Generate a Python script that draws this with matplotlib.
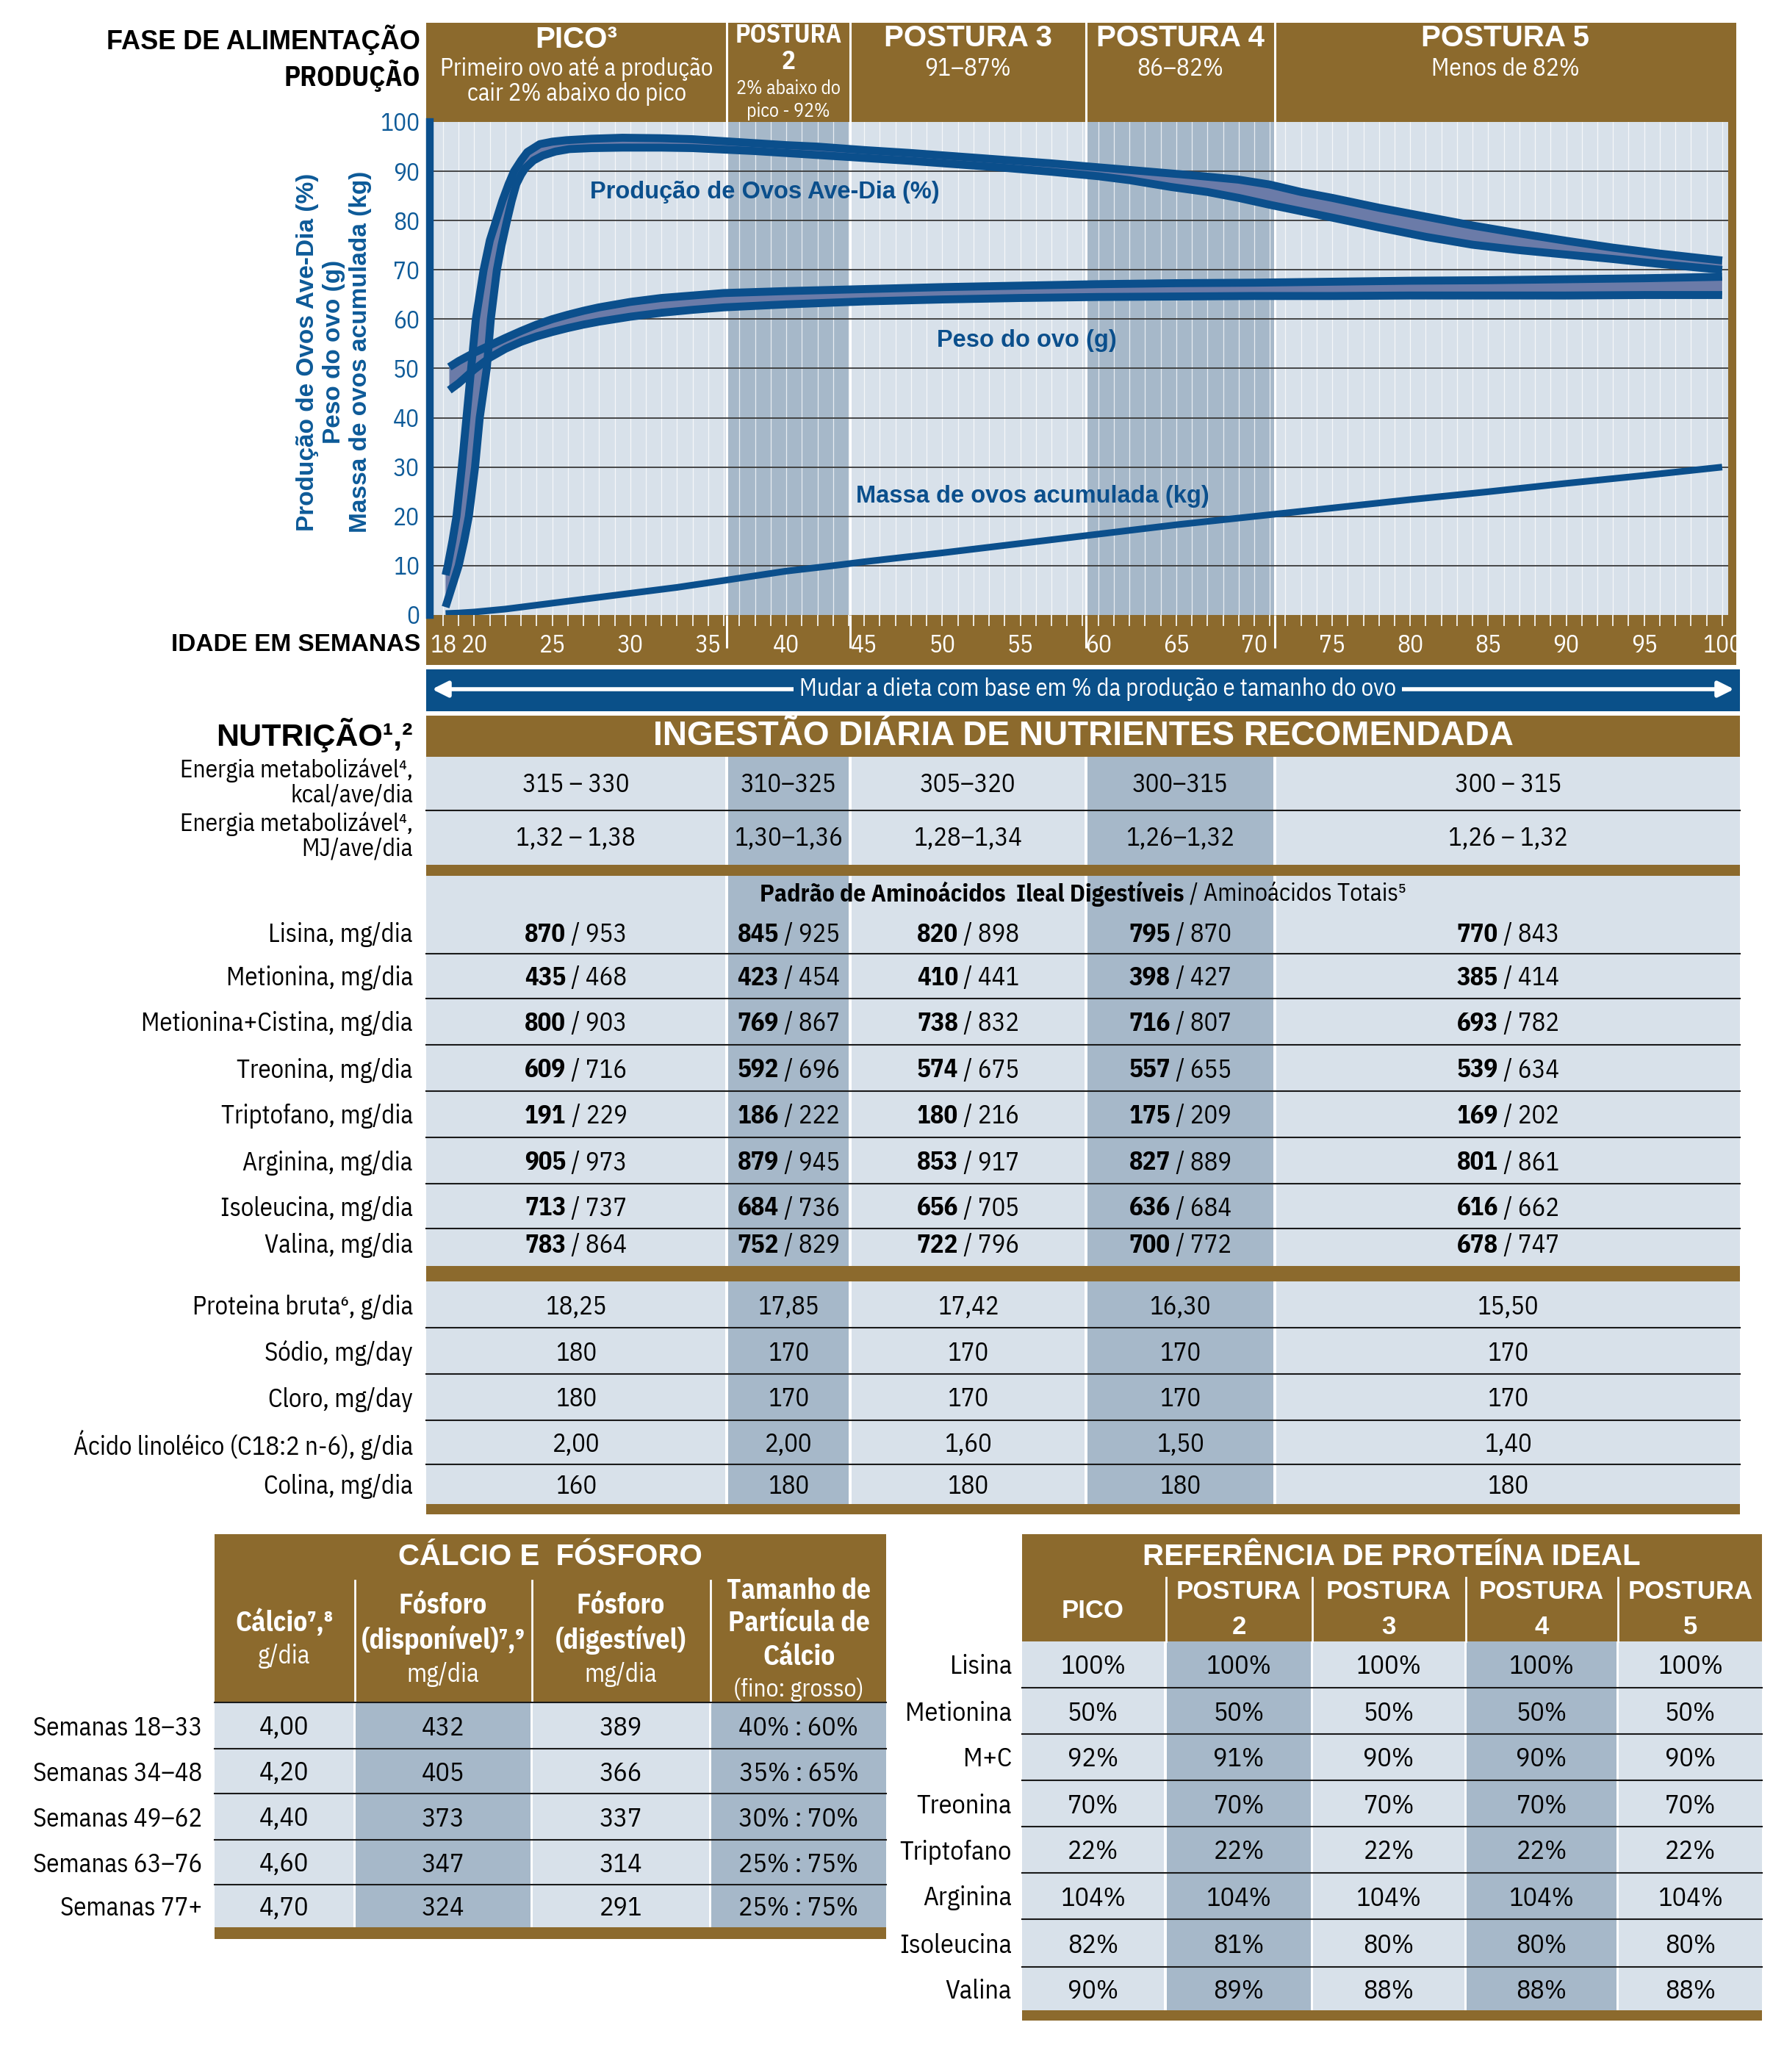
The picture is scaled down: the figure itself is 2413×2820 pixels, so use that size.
import matplotlib
matplotlib.use('Agg')
import matplotlib.pyplot as plt
from matplotlib.patches import Rectangle
from matplotlib.transforms import blended_transform_factory
import numpy as np

# ------------------------------------------------------------------ data
PHASE_NAMES = ['PICO³', 'POSTURA\n2', 'POSTURA 3', 'POSTURA 4', 'POSTURA 5']
PHASE_SUBS = ['Primeiro ovo até a produção\ncair 2% abaixo do pico', '2% abaixo do\npico - 92%',
              '91–87%', '86–82%', 'Menos de 82%']
PHASE_BOUNDS = [36.2, 44.1, 59.2, 71.3]          # weeks
WEEK_LABELS = [18, 20, 25, 30, 35, 40, 45, 50, 55, 60, 65, 70, 75, 80, 85, 90, 95, 100]
Y_TICKS = [0, 10, 20, 30, 40, 50, 60, 70, 80, 90, 100]

prod_hi_w = [18.16, 18.3, 18.6, 18.86, 19.2, 19.5, 19.8, 20.1, 20.6, 21.0, 21.4, 21.8, 22.2, 22.55, 23.0,
             23.4, 24.2, 25.0, 25.9, 27.5, 29.5, 32, 34, 36, 38, 40, 42, 45, 48, 51, 54, 57, 60, 63, 66,
             69, 71, 73, 75, 78, 81, 84, 87, 90, 93, 96, 100]
prod_hi_v = [8.1, 10, 15, 20, 30, 40, 50, 60, 70, 76, 80, 84, 87.4, 90, 92.2,
             93.9, 95.5, 96.0, 96.3, 96.6, 96.8, 96.7, 96.5, 96.1, 95.7, 95.3, 95.0, 94.3, 93.7, 93.0, 92.3,
             91.6, 90.8, 90.0, 89.2, 88.3, 87.3, 85.8, 84.6, 82.6, 80.8, 79.0, 77.4, 75.9, 74.5, 73.3, 71.9]
prod_lo_w = [18.16, 18.6, 19.0, 19.35, 19.65, 20.05, 20.35, 20.8, 21.06, 21.45, 21.75, 22.1, 22.4, 22.7,
             23.0, 23.26, 23.8, 24.4, 25.2, 26.1, 27.5, 29.5, 32, 34, 36, 38, 40, 42, 45, 48, 51, 54, 57,
             60, 62, 64.7, 67, 69, 71, 73, 75, 78, 81, 84, 87, 90, 93, 96, 100]
prod_lo_v = [1.6, 6, 10, 15, 20, 30, 40, 50, 60, 70, 75, 80, 84, 87.4,
             89.3, 90.6, 92.2, 93.2, 94.0, 94.5, 94.7, 94.8, 94.8, 94.7, 94.4, 94.1, 93.7, 93.3, 92.7, 92.1,
             91.4, 90.7, 89.9, 89.0, 88.2, 86.8, 85.8, 84.6, 83.2, 81.9, 80.6, 78.6, 76.7, 75.1, 74.0, 73.1,
             72.2, 71.2, 70.0]

egg_w = [18.4, 19, 20, 21, 22, 23, 24, 25, 26, 27, 28, 30, 32, 34, 36, 40, 45, 50, 55, 60, 65, 70, 75, 80,
         85, 90, 95, 100]
egg_hi = [50.3, 51.5, 53.2, 54.7, 56.2, 57.6, 58.9, 60.0, 60.9, 61.7, 62.4, 63.5, 64.3, 64.8, 65.3, 65.7,
          66.1, 66.5, 66.8, 67.1, 67.3, 67.4, 67.6, 67.8, 67.9, 68.1, 68.3, 68.6]
egg_lo = [45.6, 47.0, 49.8, 52.2, 54.0, 55.4, 56.5, 57.4, 58.2, 58.9, 59.5, 60.5, 61.3, 61.9, 62.4, 63.0,
          63.6, 64.0, 64.3, 64.5, 64.6, 64.7, 64.7, 64.8, 64.8, 64.8, 64.9, 64.9]

mass_w = [18.16, 19, 20, 21, 22, 23, 25, 27, 29.5, 33, 36, 40, 43, 45, 50, 55, 60, 65, 70, 75, 80, 85, 90,
          95, 100]
mass_v = [0.3, 0.4, 0.6, 0.9, 1.2, 1.6, 2.4, 3.2, 4.2, 5.6, 7.0, 8.9, 10.0, 10.8, 12.6, 14.5, 16.4, 18.3,
          20.0, 21.7, 23.4, 25.0, 26.7, 28.3, 30.0]

NUT_ROWS_A = ['Energia metabolizável⁴,\nkcal/ave/dia', 'Energia metabolizável⁴,\nMJ/ave/dia']
NUT_VALS_A = [['315 – 330', '310–325', '305–320', '300–315', '300 – 315'],
              ['1,32 – 1,38', '1,30–1,36', '1,28–1,34', '1,26–1,32', '1,26 – 1,32']]
AMINO_ROWS = ['Lisina, mg/dia', 'Metionina, mg/dia', 'Metionina+Cistina, mg/dia', 'Treonina, mg/dia',
              'Triptofano, mg/dia', 'Arginina, mg/dia', 'Isoleucina, mg/dia', 'Valina, mg/dia']
AMINO_DIG = [[870, 845, 820, 795, 770], [435, 423, 410, 398, 385], [800, 769, 738, 716, 693],
             [609, 592, 574, 557, 539], [191, 186, 180, 175, 169], [905, 879, 853, 827, 801],
             [713, 684, 656, 636, 616], [783, 752, 722, 700, 678]]
AMINO_TOT = [[953, 925, 898, 870, 843], [468, 454, 441, 427, 414], [903, 867, 832, 807, 782],
             [716, 696, 675, 655, 634], [229, 222, 216, 209, 202], [973, 945, 917, 889, 861],
             [737, 736, 705, 684, 662], [864, 829, 796, 772, 747]]
NUT_ROWS_C = ['Proteina bruta⁶, g/dia', 'Sódio, mg/day', 'Cloro, mg/day',
              'Ácido linoléico (C18:2 n-6), g/dia', 'Colina, mg/dia']
NUT_VALS_C = [['18,25', '17,85', '17,42', '16,30', '15,50'],
              ['180', '170', '170', '170', '170'],
              ['180', '170', '170', '170', '170'],
              ['2,00', '2,00', '1,60', '1,50', '1,40'],
              ['160', '180', '180', '180', '180']]

CA_ROWS = ['Semanas 18–33', 'Semanas 34–48', 'Semanas 49–62', 'Semanas 63–76', 'Semanas 77+']
CA_CALCIO = ['4,00', '4,20', '4,40', '4,60', '4,70']
CA_PDISP = ['432', '405', '373', '347', '324']
CA_PDIG = ['389', '366', '337', '314', '291']
CA_PART = ['40% : 60%', '35% : 65%', '30% : 70%', '25% : 75%', '25% : 75%']

PR_COLS = ['PICO', 'POSTURA\n2', 'POSTURA\n3', 'POSTURA\n4', 'POSTURA\n5']
PR_ROWS = ['Lisina', 'Metionina', 'M+C', 'Treonina', 'Triptofano', 'Arginina', 'Isoleucina', 'Valina']
PR_VALS = [[100, 100, 100, 100, 100], [50, 50, 50, 50, 50], [92, 91, 90, 90, 90], [70, 70, 70, 70, 70],
           [22, 22, 22, 22, 22], [104, 104, 104, 104, 104], [82, 81, 80, 80, 80], [90, 89, 88, 88, 88]]

# ------------------------------------------------------------------ style
BROWN = '#8c6a2d'
LIGHT = '#d8e1ea'
DARK = '#a6b8c9'
BLUE = '#0b4f8c'
BLUE_T = '#0d5a98'
BAND = '#6b7ba8'
NAR = ['IBM Plex Sans Condensed', 'Fira Sans Condensed', 'DejaVu Sans']
WID = ['Liberation Sans', 'DejaVu Sans']

W, H = 2413, 2820
fig = plt.figure(figsize=(W / 100, H / 100), dpi=100)
ax0 = fig.add_axes([0, 0, 1, 1])
ax0.set_xlim(0, W)
ax0.set_ylim(H, 0)
ax0.axis('off')

X0, PW = 603.0, 21.23          # pixel of week 18, pixels per week


def wx(w):
    return X0 + (w - 18) * PW


def T(x, y, s, size=24, bold=False, color='black', ha='center', va='center', fam=NAR, ax=None, **kw):
    ax = ax or ax0
    return ax.text(x, y, s, fontsize=size, fontweight='bold' if bold else 'normal', color=color,
                   ha=ha, va=va, family=fam, **kw)


def R(x0, y0, x1, y1, c, ax=None, z=0):
    (ax or ax0).add_patch(Rectangle((x0, y0), x1 - x0, y1 - y0, facecolor=c, edgecolor='none', zorder=z))


renderer = fig.canvas.get_renderer()


def mixed(xc, y, parts, size=24, color='black'):
    txts = [T(0, y, s, size, b, color, ha='left') for s, b in parts]
    widths = [t.get_window_extent(renderer).width for t in txts]
    x = xc - sum(widths) / 2
    for t, wd in zip(txts, widths):
        t.set_x(x)
        x += wd


LEFT, RIGHT = 580, 2363
bpx = [wx(b) for b in PHASE_BOUNDS]
edges = [LEFT] + bpx + [RIGHT]
centers = [(edges[i] + edges[i + 1]) / 2 for i in range(5)]

# ------------------------------------------------------------------ header band
R(LEFT, 31, RIGHT, 166, BROWN)
for b in bpx:
    ax0.plot([b, b], [31, 166], color='white', lw=2.2, zorder=2)
T(572, 54, 'FASE DE ALIMENTAÇÃO', 26, True, ha='right', fam=WID)
T(572, 103, 'PRODUÇÃO', 27, True, ha='right')

T(centers[0], 54, PHASE_NAMES[0], 29, True, 'white', fam=WID)
T(centers[0], 110, PHASE_SUBS[0], 23.5, False, 'white', linespacing=1.1)
p2_top, p2_num = PHASE_NAMES[1].split('\n')
T(centers[1], 49, p2_top, 25, True, 'white', zorder=3)
T(centers[1], 84, p2_num, 25, True, 'white', zorder=3)
T(centers[1], 136, PHASE_SUBS[1], 18.5, False, 'white', linespacing=1.25)
for i in (2, 3, 4):
    T(centers[i], 52, PHASE_NAMES[i], 29, True, 'white', fam=WID)
    T(centers[i], 94, PHASE_SUBS[i], 24, False, 'white')

# ------------------------------------------------------------------ chart
AX_L, AX_R, AX_T, AX_B = 585, 2352, 166, 837
axc = fig.add_axes([AX_L / W, 1 - AX_B / H, (AX_R - AX_L) / W, (AX_B - AX_T) / H])
axc.set_xlim(18 + (AX_L - X0) / PW, 18 + (AX_R - X0) / PW)
axc.set_ylim(0, 100)
axc.set_facecolor(LIGHT)
axc.axvspan(PHASE_BOUNDS[0], PHASE_BOUNDS[1], color=DARK, lw=0, zorder=0)
axc.axvspan(PHASE_BOUNDS[2], PHASE_BOUNDS[3], color=DARK, lw=0, zorder=0)
for w in range(17, 101):
    axc.axvline(w, color='white', lw=0.9, alpha=0.75, zorder=1)
for b in PHASE_BOUNDS:
    axc.axvline(b, color='white', lw=2.2, zorder=1)
for v in Y_TICKS[1:-1]:
    axc.axhline(v, color='#3a3a3a', lw=1.3, zorder=2)

axc.fill(np.concatenate([prod_hi_w, prod_lo_w[::-1]]), np.concatenate([prod_hi_v, prod_lo_v[::-1]]),
         color=BAND, lw=0, zorder=3)
axc.fill(np.concatenate([egg_w, egg_w[::-1]]), np.concatenate([egg_hi, egg_lo[::-1]]),
         color=BAND, lw=0, zorder=3)
for xs, ys in ((prod_hi_w, prod_hi_v), (prod_lo_w, prod_lo_v), (egg_w, egg_hi), (egg_w, egg_lo)):
    axc.plot(xs, ys, color=BLUE, lw=7.8, solid_joinstyle='round', solid_capstyle='butt', zorder=4)
axc.plot(mass_w, mass_v, color=BLUE, lw=6.5, solid_joinstyle='round', solid_capstyle='butt', zorder=4)

T(38.6, 85.8, 'Produção de Ovos Ave-Dia (%)', 23.5, True, BLUE, fam=WID, ax=axc, zorder=5)
T(55.4, 55.6, 'Peso do ovo (g)', 23.5, True, BLUE, fam=WID, ax=axc, zorder=5)
T(55.8, 24.1, 'Massa de ovos acumulada (kg)', 23.5, True, BLUE, fam=WID, ax=axc, zorder=5)

axc.set_xticks([])
axc.set_yticks(Y_TICKS)
axc.set_yticklabels([str(v) for v in Y_TICKS], family=NAR, fontsize=24, color=BLUE_T)
axc.tick_params(axis='y', length=0, pad=10)
for s in ('top', 'right', 'bottom'):
    axc.spines[s].set_visible(False)
axc.spines['left'].set_color(BLUE)
axc.spines['left'].set_linewidth(7.5)

# y label (three lines)
for xx, s in ((418, 'Produção de Ovos Ave-Dia (%)'), (455, 'Peso do ovo (g)'),
              (491, 'Massa de ovos acumulada (kg)')):
    T(xx, 479, s, 24, True, BLUE_T, fam=WID, rotation=90)

# right brown border
R(AX_R, 166, RIGHT, 905, BROWN)

# tick band
R(LEFT, 837, RIGHT, 905, BROWN)
bt = blended_transform_factory(axc.transData, ax0.transData)
ax0.vlines(list(range(18, 101)), 837, 852, transform=bt, color='white', lw=1.2)
ax0.vlines(PHASE_BOUNDS, 837, 882, transform=bt, color='white', lw=2.2)
for w in WEEK_LABELS:
    ax0.text(w, 879, str(w), transform=bt, ha='center', va='center', fontsize=24, color='white', family=NAR)
T(572, 877, 'IDADE EM SEMANAS', 24, True, ha='right', fam=WID)

# blue band with arrow
R(LEFT, 911, 2368, 968, '#0a5089')
ax0.annotate('', xy=(2360, 938), xytext=(588, 938),
             arrowprops=dict(arrowstyle='<|-|>', color='white', lw=4, mutation_scale=32, shrinkA=0, shrinkB=0))
T(1494, 938, 'Mudar a dieta com base em % da produção e tamanho do ovo', 23.5, False, 'white',
  bbox=dict(boxstyle='square,pad=0.25', fc='#0a5089', ec='none'))

# ------------------------------------------------------------------ nutrition table
TR = 2368
ncols = [(LEFT, bpx[0] - 2), (bpx[0] + 2, bpx[1] - 2), (bpx[1] + 2, bpx[2] - 2), (bpx[2] + 2, bpx[3] - 2),
         (bpx[3] + 2, TR)]
ncent = [(a + b) / 2 for a, b in ncols]
shade = [LIGHT, DARK, LIGHT, DARK, LIGHT]

R(LEFT, 974, TR, 1030, BROWN)
T((LEFT + TR) / 2, 1002, 'INGESTÃO DIÁRIA DE NUTRIENTES RECOMENDADA', 33, True, 'white', fam=WID)
T(562, 1001, 'NUTRIÇÃO¹,²', 31, True, ha='right', fam=WID)


def band_cells(y0, y1, cols, shades):
    for (a, b), c in zip(cols, shades):
        R(a, y0, b, y1, c)


def hline(y, x0, x1):
    ax0.plot([x0, x1], [y, y], color='#1a1a1a', lw=1.5, zorder=3)


FS = 25
# energy rows
band_cells(1030, 1177, ncols, shade)
hline(1103, LEFT, TR)
for k, (lab, vals) in enumerate(zip(NUT_ROWS_A, NUT_VALS_A)):
    yc = 1068 + k * 73
    T(562, yc - 3, lab, 24, ha='right', linespacing=1.05)
    for cx, v in zip(ncent, vals):
        T(cx, yc, v, FS)
R(LEFT, 1177, TR, 1192, BROWN)

# amino rows
band_cells(1192, 1723, ncols, shade)
mixed(1474, 1217, [('Padrão de Aminoácidos  Ileal Digestíveis', True), (' / Aminoácidos Totais⁵', False)], 24)
amino_lines = [1240, 1298, 1359, 1422, 1485, 1548, 1611, 1672, 1723]
for i, lab in enumerate(AMINO_ROWS):
    yc = (amino_lines[i] + amino_lines[i + 1]) / 2 + (3 if i < 7 else -2)
    if i > 0:
        hline(amino_lines[i], LEFT, TR)
    T(562, yc, lab, FS, ha='right')
    for j, cx in enumerate(ncent):
        mixed(cx, yc, [(str(AMINO_DIG[i][j]), True), (' / ' + str(AMINO_TOT[i][j]), False)], FS)
R(LEFT, 1723, TR, 1744, BROWN)

# other rows
c_lines = [1744, 1807, 1870, 1933, 1993, 2047]
band_cells(1744, 2047, ncols, shade)
for i, lab in enumerate(NUT_ROWS_C):
    yc = (c_lines[i] + c_lines[i + 1]) / 2 + 3
    if i > 0:
        hline(c_lines[i], LEFT, TR)
    T(562, yc, lab, FS, ha='right')
    for cx, v in zip(ncent, NUT_VALS_C[i]):
        T(cx, yc, v, FS)
R(LEFT, 2047, TR, 2061, BROWN)

# ------------------------------------------------------------------ calcium table
ca_cols = [(292, 481), (484, 722), (725, 965), (968, 1206)]
ca_cent = [(a + b) / 2 for a, b in ca_cols]
R(292, 2088, 1206, 2317, BROWN)
for a, b in ca_cols[1:]:
    ax0.plot([a - 1.5, a - 1.5], [2151, 2317], color='white', lw=2)
T(749, 2119, 'CÁLCIO E  FÓSFORO', 29, True, 'white', fam=WID)
T(ca_cent[0], 2209, 'Cálcio⁷,⁸', 27, True, 'white')
T(ca_cent[0], 2254, 'g/dia', 25, False, 'white')
T(ca_cent[1], 2185, 'Fósforo', 27, True, 'white')
T(ca_cent[1], 2232, '(disponível)⁷,⁹', 27, True, 'white')
T(ca_cent[1], 2279, 'mg/dia', 25, False, 'white')
T(ca_cent[2], 2185, 'Fósforo', 27, True, 'white')
T(ca_cent[2], 2232, '(digestível)', 27, True, 'white')
T(ca_cent[2], 2279, 'mg/dia', 25, False, 'white')
T(ca_cent[3], 2165, 'Tamanho de', 27, True, 'white')
T(ca_cent[3], 2210, 'Partícula de', 27, True, 'white')
T(ca_cent[3], 2255, 'Cálcio', 27, True, 'white')
T(ca_cent[3], 2300, '(fino: grosso)', 24, False, 'white')
ca_lines = [2317, 2380, 2441, 2504, 2565, 2623]
band_cells(2317, 2623, ca_cols, [LIGHT, DARK, LIGHT, DARK])
for i, lab in enumerate(CA_ROWS):
    yc = (ca_lines[i] + ca_lines[i + 1]) / 2 + 3
    if i > 0:
        hline(ca_lines[i], 292, 1206)
    T(275, yc, lab, 25, ha='right')
    for cx, v in zip(ca_cent, (CA_CALCIO[i], CA_PDISP[i], CA_PDIG[i], CA_PART[i])):
        T(cx, yc, v, 26)
hline(2317, 292, 1206)
R(292, 2623, 1206, 2639, BROWN)

# ------------------------------------------------------------------ protein reference table
pr_cols = [(1391, 1584), (1588, 1784), (1787, 1993), (1996, 2200), (2203, 2398)]
pr_cent = [(a + b) / 2 for a, b in pr_cols]
R(1391, 2088, 2398, 2234, BROWN)
for a, b in pr_cols[1:]:
    ax0.plot([a - 1.5, a - 1.5], [2147, 2234], color='white', lw=2)
T(1894, 2119, 'REFERÊNCIA DE PROTEÍNA IDEAL', 29, True, 'white', fam=WID)
for k, (cx, lab) in enumerate(zip(pr_cent, PR_COLS)):
    if '\n' in lab:
        top, num = lab.split('\n')
        T(cx, 2167, top, 25, True, 'white', fam=WID)
        T(cx, 2214, num, 25, True, 'white', fam=WID)
    else:
        T(cx, 2192, lab, 25, True, 'white', fam=WID)
pr_lines = [2234, 2297, 2360, 2423, 2486, 2549, 2612, 2677, 2736]
band_cells(2234, 2736, pr_cols, shade)
for i, lab in enumerate(PR_ROWS):
    yc = (pr_lines[i] + pr_lines[i + 1]) / 2 + 3
    if i > 0:
        hline(pr_lines[i], 1391, 2398)
    T(1377, yc, lab, 26, ha='right')
    for cx, v in zip(pr_cent, PR_VALS[i]):
        T(cx, yc, f'{v}%', 26)
R(1391, 2736, 2398, 2750, BROWN)

fig.savefig('out.png', dpi=100, facecolor='white')
